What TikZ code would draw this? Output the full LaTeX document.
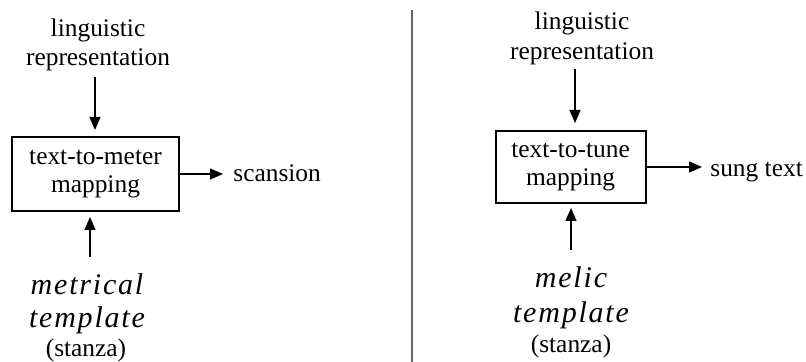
\documentclass[tikz,border=0pt]{standalone}
\usepackage{fontspec}
\setmainfont{Liberation Serif}
\newfontfamily\spacedit{Liberation Serif}[LetterSpace=6]
\usetikzlibrary{arrows.meta}
\begin{document}
\begin{tikzpicture}[x=0.5pt,y=-0.5pt,
  txt/.style={font=\fontsize{12.7}{15}\selectfont, inner sep=0pt, anchor=base},
  tmpl/.style={font=\fontsize{15}{17}\selectfont\spacedit\itshape, inner sep=0pt, anchor=base},
  mapbox/.style={draw, line width=1pt, inner sep=0pt, align=center,
                 font=\fontsize{12.7}{14}\selectfont},
  flow/.style={line width=0.7pt, -{Triangle[length=6.5pt,width=5.5pt]}},
  divider/.style={draw=black!60, line width=0.8pt}]
\useasboundingbox (0,0) rectangle (806,362);

% ---------- left panel ----------
\node[txt] (lingL1) at (98,37) {linguistic};
\node[txt] (lingL2) at (98,66) {representation};
\node[mapbox, minimum width=83.5pt, minimum height=37pt] (boxL) at (95.5,174)
  {text-to-meter\\mapping};
\coordinate (inL) at (95,77);
\draw[flow, shorten >=3pt] (inL) -- (inL |- boxL.north);
\node[txt, anchor=base west] (scan) at (233,182) {scansion};
\draw[flow, shorten >=5pt] (boxL.east) -- (boxL.east -| scan.west);
\node[tmpl] (metL1) at (87,295) {metrical};
\node[tmpl] (metL2) at (87,328) {template};
\node[txt] (metL3) at (86,357) {(stanza)};
\coordinate (outL) at (90,257);
\draw[flow, shorten >=2.5pt] (outL) -- (outL |- boxL.south);

% ---------- divider ----------
\coordinate (divTop) at (412,10);
\coordinate (divBot) at (412,362);
\draw[divider] (divTop) -- (divBot);

% ---------- right panel ----------
\node[txt] (lingR1) at (582,30) {linguistic};
\node[txt] (lingR2) at (582,60) {representation};
\node[mapbox, minimum width=75pt, minimum height=36pt] (boxR) at (570.5,167)
  {text-to-tune\\mapping};
\coordinate (inR) at (575,69);
\draw[flow, shorten >=3.5pt] (inR) -- (inR |- boxR.north);
\node[txt, anchor=base west] (sung) at (710,177) {sung text};
\draw[flow, shorten >=4pt] (boxR.east) -- (boxR.east -| sung.west);
\node[tmpl] (melR1) at (571,288) {melic};
\node[tmpl] (melR2) at (571,322) {template};
\node[txt] (melR3) at (571,352) {(stanza)};
\coordinate (outR) at (571,250);
\draw[flow, shorten >=2pt] (outR) -- (outR |- boxR.south);
\end{tikzpicture}
\end{document}
